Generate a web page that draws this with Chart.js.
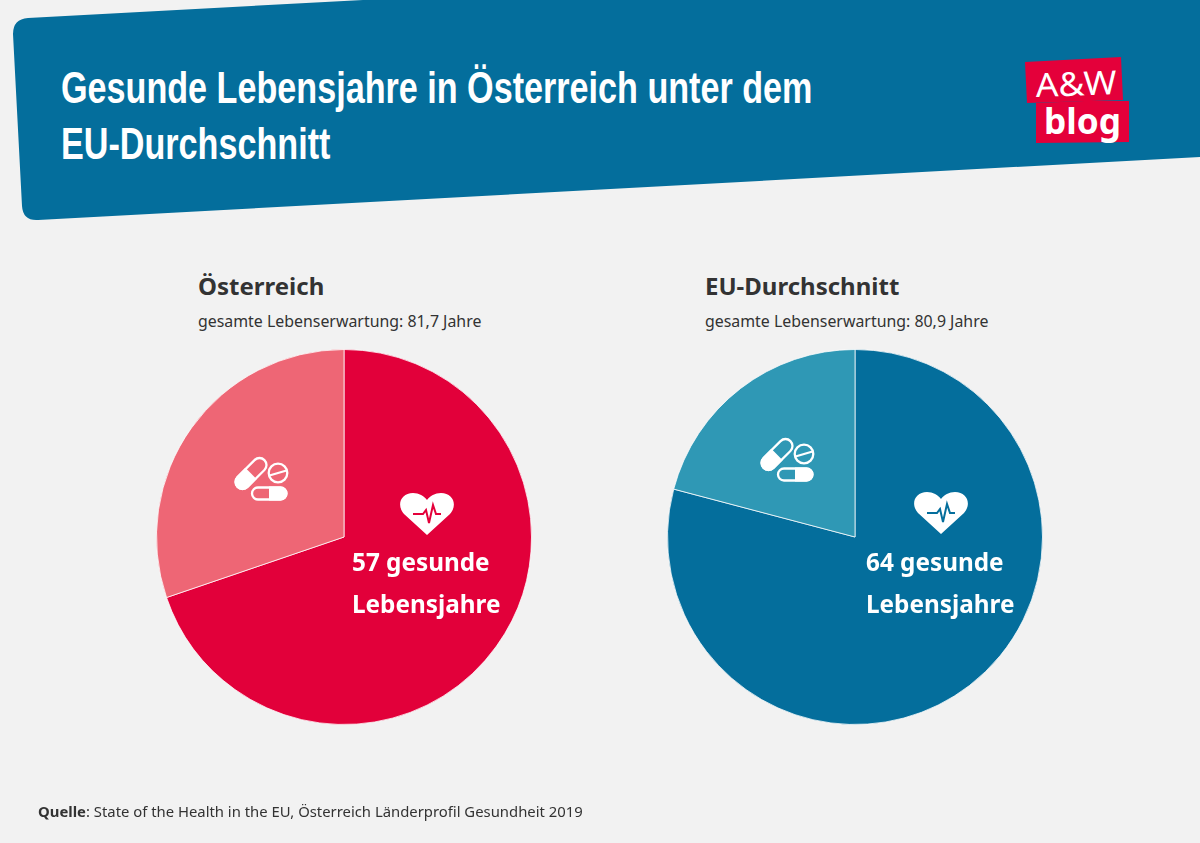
<!DOCTYPE html>
<html lang="de">
<head>
<meta charset="utf-8">
<title>Gesunde Lebensjahre</title>
<script src="https://cdn.jsdelivr.net/npm/chart.js@4/dist/chart.umd.min.js"></script>
<style>
  html, body { margin: 0; padding: 0; }
  body { width: 1200px; height: 843px; background: #f2f2f2; position: relative; overflow: hidden; font-family: "Noto Sans", sans-serif; color: #333; }
  .abs { position: absolute; white-space: nowrap; }
  .layer { position: absolute; left: 0; top: 0; }
  h1 { margin: 0; position: absolute; left: 61px; top: 60px; font: bold 43.5px/56px "Liberation Sans", sans-serif; color: #fff; white-space: nowrap; transform: scaleX(0.785); transform-origin: left top; }
  h2 { margin: 0; position: absolute; white-space: nowrap; font: bold 24px/32px "Noto Sans", sans-serif; color: #333; }
  .sub { font-size: 15.9px; line-height: 20px; }
  .pie { position: absolute; top: 349px; width: 376px; height: 376px; }
  .inside { position: absolute; white-space: nowrap; color: #fff; font: bold 24.3px/42px "Noto Sans", sans-serif; }
  .logo { font-family: "Noto Sans", sans-serif; fill: #fff; }
</style>
</head>
<body>
<svg class="layer" width="1200" height="843" viewBox="0 0 1200 843">
  <path fill="#046e9c" d="M363 0 L1200 0 L1200 157 L38 220 Q23 221 22 206 L13 34 Q13 19 28 18 Z"/>
  <path fill="#e4003a" d="M1025 62 L1121 57 L1123 100 L1027 103 Z"/>
  <path fill="#e4003a" d="M1036 103 L1084 101 L1129 101 L1129 142 L1036 143 Z"/>
  <text class="logo" x="1036" y="97" font-size="33" transform="rotate(-2 1036 97)" textLength="81" lengthAdjust="spacingAndGlyphs">A&amp;W</text>
  <text class="logo" x="1044" y="134" font-size="35" font-weight="bold" textLength="77" lengthAdjust="spacingAndGlyphs">blog</text>
</svg>

<h1>Gesunde Lebensjahre in Österreich unter dem<br>EU-Durchschnitt</h1>

<h2 style="left:198px;top:270px">Österreich</h2>
<div class="abs sub" style="left:198px;top:311px">gesamte Lebenserwartung: 81,7 Jahre</div>
<h2 style="left:705px;top:270px">EU-Durchschnitt</h2>
<div class="abs sub" style="left:705px;top:311px">gesamte Lebenserwartung: 80,9 Jahre</div>

<div class="pie" style="left:156px"><canvas id="pie-at"></canvas></div>
<div class="pie" style="left:667px"><canvas id="pie-eu"></canvas></div>

<svg class="layer" width="1200" height="843" viewBox="0 0 1200 843">
  <defs>
    <g id="pills" fill="none" stroke="#fff" stroke-width="2.300">
      <g transform="rotate(-45 30 29.500)">
        <rect x="11" y="22.500" width="38" height="14" rx="7"/>
        <path fill="#fff" stroke="none" d="M18 21.500 L30 21.500 L30 37.500 L18 37.500 A8 8 0 0 1 18 21.500 Z"/>
      </g>
      <circle cx="57" cy="29" r="9.300"/>
      <line x1="48.500" y1="31.500" x2="65.500" y2="26.500"/>
      <rect x="31" y="43.500" width="34.500" height="12" rx="6"/>
      <path fill="#fff" stroke="none" d="M48 42.500 L59.500 42.500 A7 7 0 0 1 59.500 56.500 L48 56.500 Z"/>
    </g>
    <path id="heart" fill="#fff" d="M27 42 L4 21 C-4 12 1 0 13 0 C19 0 24 3 27 7 C30 3 35 0 41 0 C53 0 58 12 50 21 Z"/>
  </defs>
  <use href="#pills" x="221" y="444"/>
  <use href="#pills" x="747" y="425"/>
  <use href="#heart" x="400" y="493"/>
  <use href="#heart" x="914" y="492"/>
  <polyline points="413,514 423,514 426,510 429,523 433,505 436,514 441,514" fill="none" stroke="#e4003a" stroke-width="2"/>
  <polyline points="927,513 937,513 940,509 943,522 947,504 950,513 955,513" fill="none" stroke="#046e9c" stroke-width="2"/>
</svg>

<div class="inside" style="left:352px;top:541px">57 gesunde<br>Lebensjahre</div>
<div class="inside" style="left:866px;top:541px">64 gesunde<br>Lebensjahre</div>

<div class="abs" style="left:38px;top:801px;font-size:14.850px;line-height:20px"><b>Quelle</b>: State of the Health in the EU, Österreich Länderprofil Gesundheit 2019</div>

<script>
const categories = ['gesunde Lebensjahre', 'übrige Lebensjahre'];
const austriaValues = [57, 24.7];
const euValues = [64, 16.9];
const austriaColors = ['#e2003a', '#ee6675'];
const euColors = ['#046e9c', '#2f98b5'];

function makePie(id, values, colors) {
    return new Chart(document.getElementById(id), {
        type: 'pie',
        data: {
            labels: categories,
            datasets: [{
                data: values,
                backgroundColor: colors,
                borderColor: 'rgba(255, 255, 255, 0.75)',
                borderWidth: 1
            }]
        },
        options: {
            responsive: true,
            maintainAspectRatio: false,
            animation: false,
            layout: { padding: 0 },
            plugins: {
                legend: { display: false },
                tooltip: { enabled: false }
            }
        }
    });
}

makePie('pie-at', austriaValues, austriaColors);
makePie('pie-eu', euValues, euColors);
</script>
</body>
</html>
